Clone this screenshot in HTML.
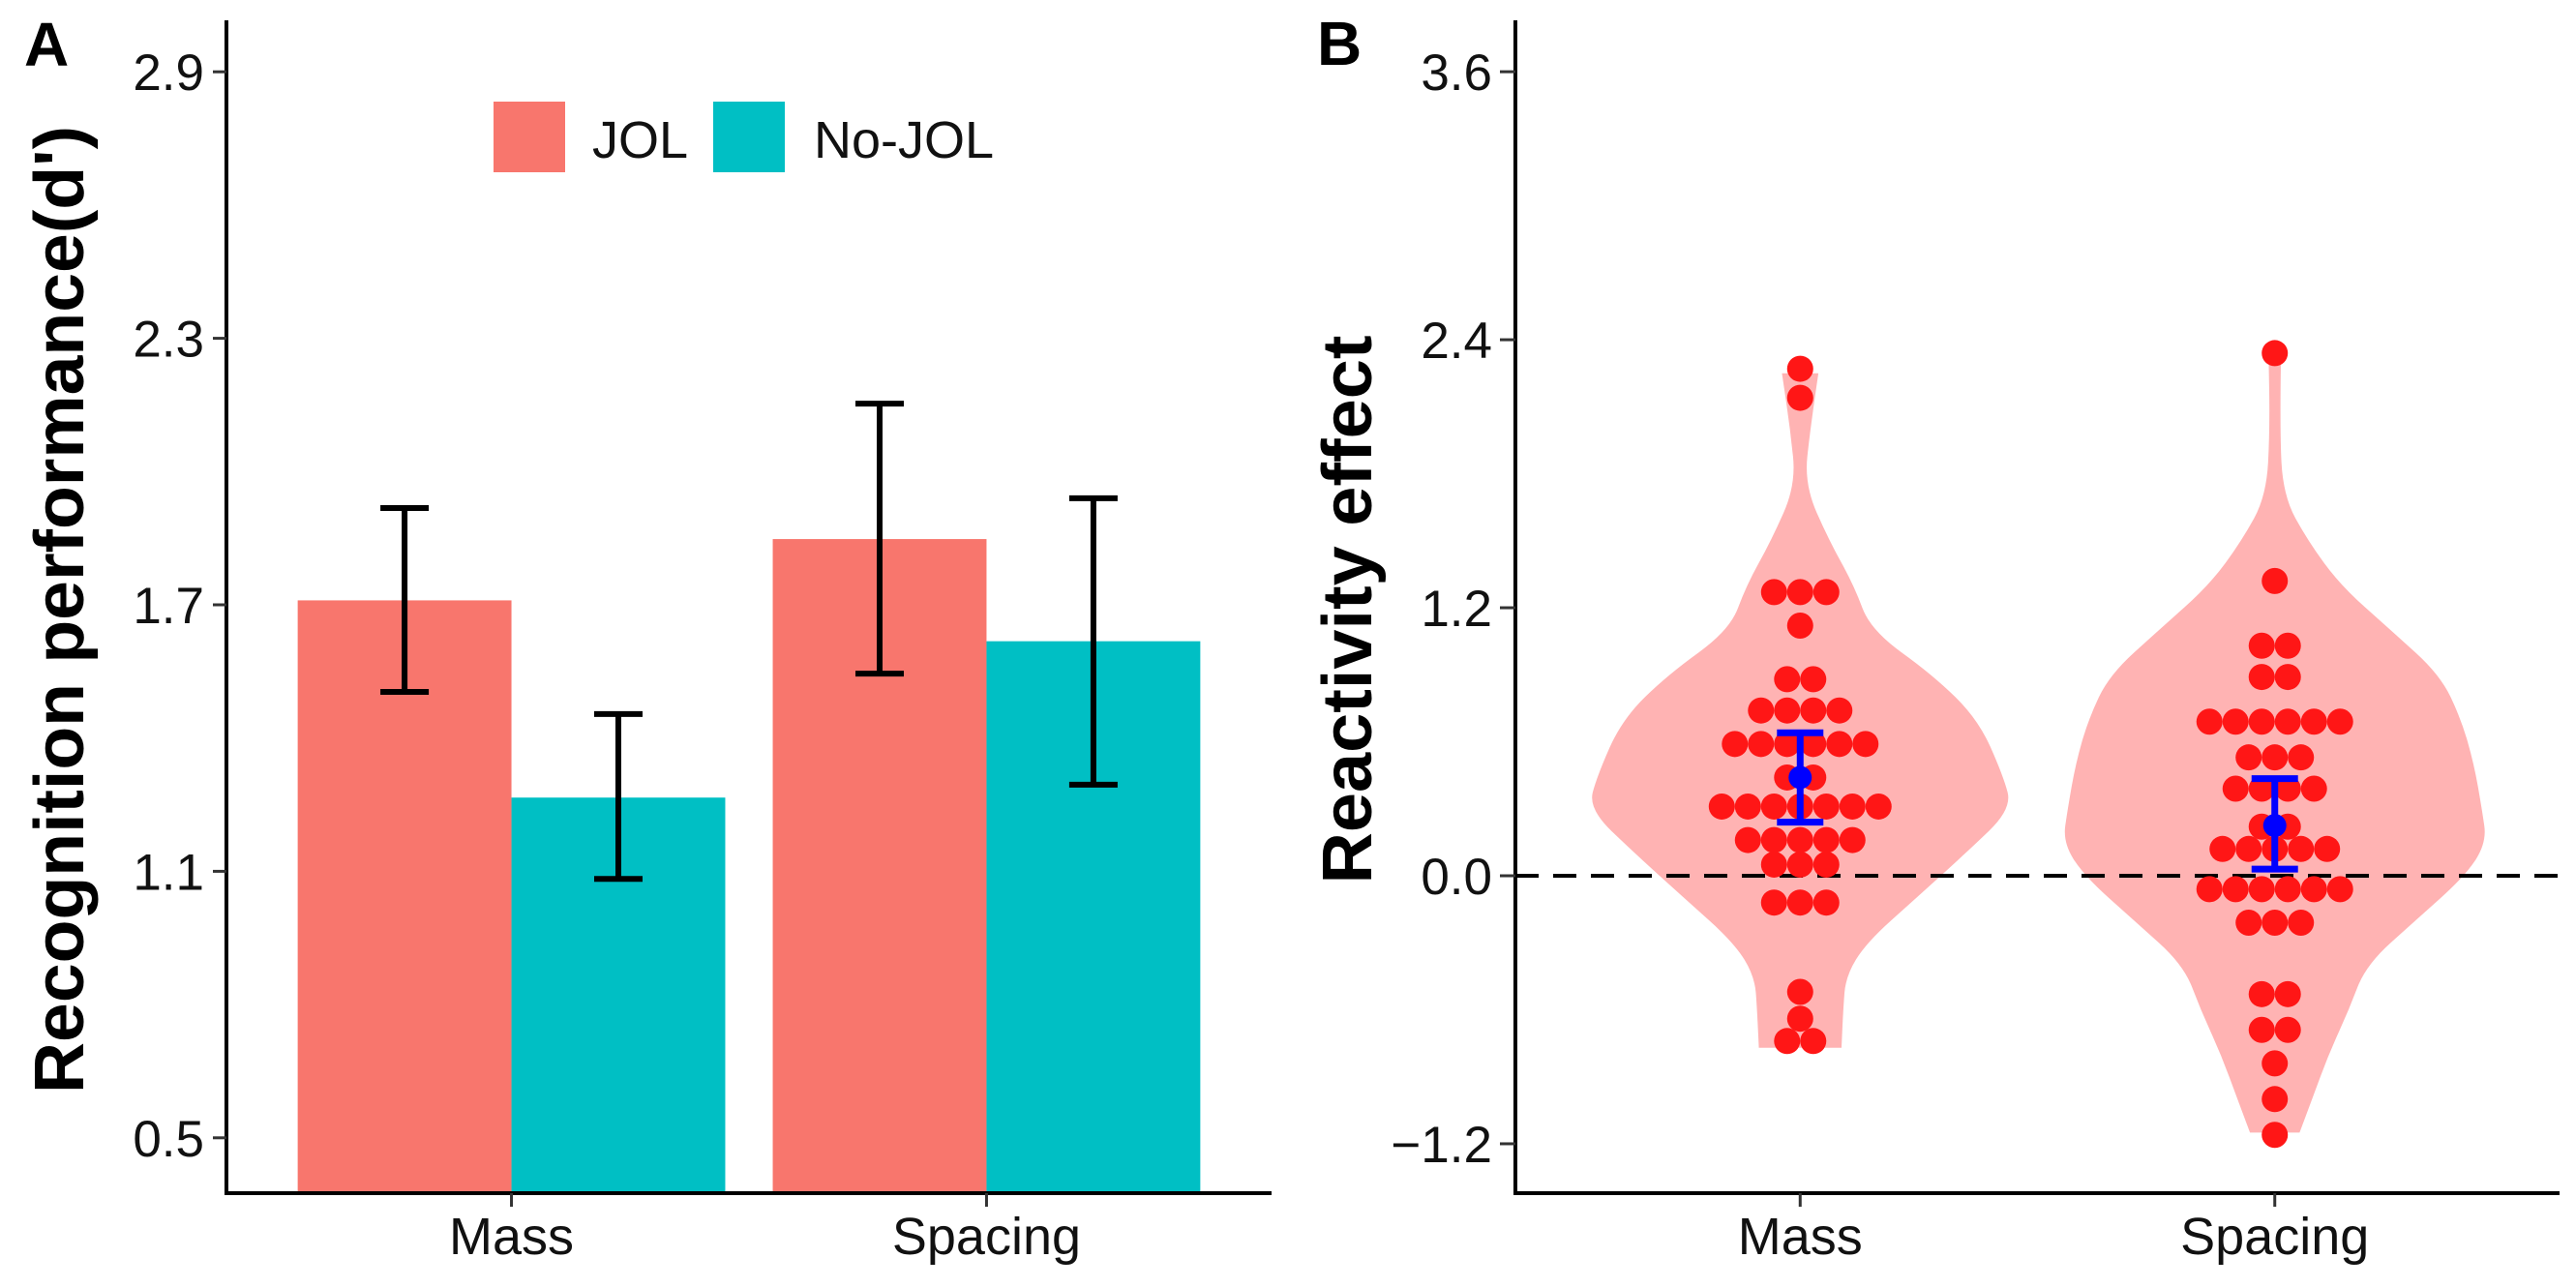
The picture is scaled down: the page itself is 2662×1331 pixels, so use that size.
<!DOCTYPE html>
<html><head><meta charset="utf-8"><style>
html,body{margin:0;padding:0;background:#fff;}
svg{display:block;font-family:"Liberation Sans",Arial,sans-serif;}
</style></head><body>
<svg id="fig" width="2662" height="1331" viewBox="0 0 2662 1331" xmlns="http://www.w3.org/2000/svg">
<g id="pa"></g>
<g id="pb"></g>
</svg>
<script>
// ---------- Panel A data ----------
const catsA = ["Mass", "Spacing"];
const groupsA = ["JOL", "No-JOL"];
const jolMeans = [1.71, 1.848];
const jolLo = [1.504, 1.545];
const jolHi = [1.918, 2.153];
const nojolMeans = [1.266, 1.618];
const nojolLo = [1.083, 1.295];
const nojolHi = [1.454, 1.94];
const ticksA = [0.5, 1.1, 1.7, 2.3, 2.9];
const ticksAlbl = ["0.5", "1.1", "1.7", "2.3", "2.9"];
// ---------- Panel B data ----------
const catsB = ["Mass", "Spacing"];
const massDotVals = [2.27, 2.14, 1.27, 1.12, 0.88, 0.74, 0.59, 0.44, 0.31, 0.16, 0.05, -0.12, -0.52, -0.64, -0.74];
const massDotCounts = [1, 1, 3, 1, 2, 4, 6, 2, 7, 5, 3, 3, 1, 1, 2];
const spacDotVals = [2.34, 1.32, 1.03, 0.89, 0.69, 0.53, 0.39, 0.22, 0.12, -0.06, -0.21, -0.53, -0.69, -0.84, -1.0, -1.16];
const spacDotCounts = [1, 1, 2, 2, 6, 3, 4, 2, 5, 6, 3, 2, 2, 1, 1, 1];
const massViolinY = [2.25, 2.0, 1.75, 1.5, 1.3, 1.1, 0.9, 0.7, 0.45, 0.3, 0.1, -0.1, -0.3, -0.45, -0.6, -0.77];
const massViolinD = [0.086, 0.047, 0.02, 0.137, 0.254, 0.332, 0.625, 0.84, 0.957, 1.0, 0.78, 0.547, 0.312, 0.215, 0.203, 0.195];
const spacViolinY = [2.37, 2.0, 1.7, 1.5, 1.3, 1.1, 0.9, 0.7, 0.5, 0.3, 0.15, 0.0, -0.2, -0.4, -0.6, -0.8, -1.0, -1.15];
const spacViolinD = [0.03, 0.023, 0.04, 0.156, 0.31, 0.547, 0.78, 0.88, 0.94, 0.977, 1.0, 0.9, 0.664, 0.43, 0.35, 0.254, 0.176, 0.117];
const meansB = [0.44, 0.225];
const seLoB = [0.24, 0.03];
const seHiB = [0.64, 0.435];
const ticksB = [-1.2, 0.0, 1.2, 2.4, 3.6];
const ticksBlbl = ["\u22121.2", "0.0", "1.2", "2.4", "3.6"];

const NS = "http://www.w3.org/2000/svg";
function mk(parent, tag, attrs, text) {
  const e = document.createElementNS(NS, tag);
  for (const k in attrs) e.setAttribute(k, attrs[k]);
  if (text !== undefined) e.textContent = text;
  parent.appendChild(e);
  return e;
}
const pa = document.getElementById('pa');
const pb = document.getElementById('pb');

// ---------- Panel A scales ----------
const aX0 = 234, aX1 = 1314, aYb = 1233, aTop = 21;
const yA = v => 625 - (v - 1.7) * 459;
const bandA = (aX1 - aX0) / 2.2;
const xA = i => aX0 + (0.6 + i) * bandA;
const barW = bandA * 0.45;

let t;
t = mk(pa, 'text', {x: 25, y: 68, 'font-size': 64, 'font-weight': 'bold'}, 'A');



for (let i = 0; i < catsA.length; i++) {
  const series = [[jolMeans, jolLo, jolHi, '#F8766D', 'jol'], [nojolMeans, nojolLo, nojolHi, '#00BFC4', 'nojol']];
  series.forEach((s, j) => {
    const x = xA(i) + (j - 1) * barW;
    const r = mk(pa, 'rect', {x: x, y: yA(s[0][i]), width: barW, height: aYb - yA(s[0][i]), fill: s[3]});
    
    
    const cx = x + barW / 2;
    const g = mk(pa, 'g', {stroke: '#000', 'stroke-width': 6, fill: 'none'});
    
    
    mk(g, 'line', {x1: cx, x2: cx, y1: yA(s[2][i]), y2: yA(s[1][i])});
    mk(g, 'line', {x1: cx - 25, x2: cx + 25, y1: yA(s[2][i]), y2: yA(s[2][i])});
    mk(g, 'line', {x1: cx - 25, x2: cx + 25, y1: yA(s[1][i]), y2: yA(s[1][i])});
  });
}
// axes A
let ln;
ln = mk(pa, 'path', {d: `M${aX0} ${aTop} V${aYb} H${aX1}`, stroke: '#000', 'stroke-width': 4, fill: 'none'});


ticksA.forEach((v, k) => {
  mk(pa, 'line', {x1: aX0 - 14, x2: aX0, y1: yA(v), y2: yA(v), stroke: '#333', 'stroke-width': 3});
  const tt = mk(pa, 'text', {x: 211, y: yA(v) + 19, 'font-size': 53, 'text-anchor': 'end', fill: '#111'}, ticksAlbl[k]);
  
  
});
catsA.forEach((c, i) => {
  mk(pa, 'line', {x1: xA(i), x2: xA(i), y1: aYb, y2: aYb + 14, stroke: '#333', 'stroke-width': 3});
  const tt = mk(pa, 'text', {x: xA(i), y: 1296, 'font-size': 54, 'text-anchor': 'middle', fill: '#111'}, c);
  
  
});
t = mk(pa, 'text', {x: 0, y: 0, 'font-size': 72, 'font-weight': 'bold', 'text-anchor': 'middle', transform: 'translate(86,630) rotate(-90)', textLength: 1000, lengthAdjust: 'spacingAndGlyphs'}, "Recognition performance(d')");


// legend
const leg = mk(pa, 'g', {});


let lg;
lg = mk(leg, 'rect', {x: 510, y: 105, width: 74, height: 73, fill: '#F8766D'});


lg = mk(leg, 'text', {x: 612, y: 163, 'font-size': 54, fill: '#111'}, groupsA[0]);


lg = mk(leg, 'rect', {x: 737, y: 105, width: 74, height: 73, fill: '#00BFC4'});


lg = mk(leg, 'text', {x: 841, y: 163, 'font-size': 54, fill: '#111'}, groupsA[1]);



// ---------- Panel B ----------
const bX0 = 1566, bX1 = 2645, bYb = 1233, bTop = 21;
const yB = v => 905 - v * 230.8;
const bandB = (bX1 - bX0) / 2.2;
const xB = i => bX0 + (0.6 + i) * bandB;
const vMax = 219;

t = mk(pb, 'text', {x: 1361, y: 67, 'font-size': 64, 'font-weight': 'bold'}, 'B');



function smoothPath(pts) {
  // quadratic smoothing through midpoints
  let d = 'M' + pts[0][0] + ' ' + pts[0][1];
  for (let k = 1; k < pts.length - 1; k++) {
    const mx = (pts[k][0] + pts[k + 1][0]) / 2, my = (pts[k][1] + pts[k + 1][1]) / 2;
    d += 'Q' + pts[k][0] + ' ' + pts[k][1] + ' ' + mx + ' ' + my;
  }
  const L = pts[pts.length - 1];
  d += 'L' + L[0] + ' ' + L[1];
  return d;
}

const violins = [[massViolinY, massViolinD], [spacViolinY, spacViolinD]];
violins.forEach((vd, i) => {
  const cx = xB(i);
  const right = vd[0].map((v, k) => [cx + vd[1][k] * vMax, yB(v)]);
  const left = vd[0].map((v, k) => [cx - vd[1][k] * vMax, yB(v)]).reverse();
  let d = smoothPath(right);
  d += 'L' + left[0][0] + ' ' + left[0][1];
  d += smoothPath(left).replace(/^M/, 'L');
  d += 'Z';
  const p = mk(pb, 'path', {d: d, fill: '#FFB3B3', stroke: 'none'});
  
  
});
// zero line
ln = mk(pb, 'line', {x1: bX0, x2: bX1, y1: yB(0), y2: yB(0), stroke: '#000', 'stroke-width': 4, 'stroke-dasharray': '24 15'});



const dots = [[massDotVals, massDotCounts], [spacDotVals, spacDotCounts]];
dots.forEach((dd, i) => {
  const cx = xB(i);
  dd[0].forEach((v, k) => {
    const n = dd[1][k];
    for (let m = 0; m < n; m++) {
      const c = mk(pb, 'circle', {cx: cx + (m - (n - 1) / 2) * 27, cy: yB(v), r: 13.5, fill: '#FF1616'});
      
      
    }
  });
});
meansB.forEach((m, i) => {
  const cx = xB(i);
  const g = mk(pb, 'g', {stroke: '#0000FF', 'stroke-width': 7, fill: 'none'});
  
  
  mk(g, 'line', {x1: cx, x2: cx, y1: yB(seHiB[i]), y2: yB(seLoB[i])});
  mk(g, 'line', {x1: cx - 24, x2: cx + 24, y1: yB(seHiB[i]), y2: yB(seHiB[i])});
  mk(g, 'line', {x1: cx - 24, x2: cx + 24, y1: yB(seLoB[i]), y2: yB(seLoB[i])});
  const c = mk(pb, 'circle', {cx: cx, cy: yB(m), r: 12, fill: '#0000FF'});
  
  
});
ln = mk(pb, 'path', {d: `M${bX0} ${bTop} V${bYb} H${bX1}`, stroke: '#000', 'stroke-width': 4, fill: 'none'});


ticksB.forEach((v, k) => {
  mk(pb, 'line', {x1: bX0 - 16, x2: bX0, y1: yB(v), y2: yB(v), stroke: '#333', 'stroke-width': 3});
  const tt = mk(pb, 'text', {x: 1542, y: yB(v) + 19, 'font-size': 53, 'text-anchor': 'end', fill: '#111'}, ticksBlbl[k]);
  
  
});
catsB.forEach((c, i) => {
  mk(pb, 'line', {x1: xB(i), x2: xB(i), y1: bYb, y2: bYb + 14, stroke: '#333', 'stroke-width': 3});
  const tt = mk(pb, 'text', {x: xB(i), y: 1296, 'font-size': 54, 'text-anchor': 'middle', fill: '#111'}, c);
  
  
});
t = mk(pb, 'text', {x: 0, y: 0, 'font-size': 72, 'font-weight': 'bold', 'text-anchor': 'middle', transform: 'translate(1417,630) rotate(-90)', textLength: 567, lengthAdjust: 'spacingAndGlyphs'}, 'Reactivity effect');


</script>
</body></html>
